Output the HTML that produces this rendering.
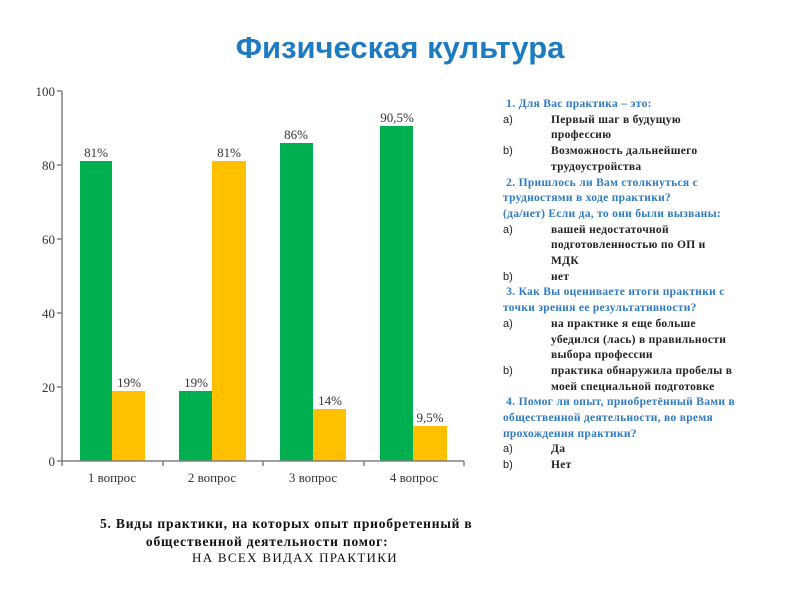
<!DOCTYPE html>
<html><head><meta charset="utf-8"><style>
body{margin:0;width:800px;height:600px;background:#fff;position:relative;overflow:hidden;font-family:"Liberation Serif","Noto Serif CJK SC",serif}
.t{position:absolute;left:0;width:800px;top:30px;text-align:center;font:bold 31px "Liberation Sans","Noto Sans CJK SC",sans-serif;color:#1F7BC1}
.r{position:absolute;left:503px;top:97px;width:280px;font-size:11.5px;font-weight:bold;line-height:15.7px;color:#222;letter-spacing:0.3px;white-space:nowrap}
.b{color:#2E7BC4}
.i{position:relative;padding-left:48px;width:220px}
.i span{position:absolute;left:0;font-family:"Liberation Sans",sans-serif;font-weight:normal;letter-spacing:0;font-size:11px}
.q{position:absolute;left:100px;top:515px;font-size:13.5px;font-weight:bold;line-height:18px;color:#111;letter-spacing:0.8px;white-space:nowrap}
.n{position:absolute;left:192px;top:550px;font-size:13px;color:#111;letter-spacing:1.3px}
</style></head><body>
<div class="t">Физическая культура</div>
<svg width="800" height="600" style="position:absolute;left:0;top:0" font-family="Liberation Serif,serif">
<g fill="#00B050"><rect x="80" y="161" width="32" height="300"/><rect x="179" y="391" width="33" height="70"/><rect x="280" y="143" width="33" height="318"/><rect x="380" y="126" width="33" height="335"/></g>
<g fill="#FFC000"><rect x="112" y="391" width="33" height="70"/><rect x="212" y="161" width="34" height="300"/><rect x="313" y="409" width="33" height="52"/><rect x="413" y="426" width="34" height="35"/></g>
<g stroke="#808080" stroke-width="1.5" fill="none"><path d="M62 91V461H464"/><path d="M57 91H62M57 165H62M57 239H62M57 313H62M57 387H62M57 461H62M163 461V466M263 461V466M364 461V466M464 461V466M62 461V466"/></g>
<g font-size="13" fill="#333" text-anchor="end"><text x="55" y="96">100</text><text x="55" y="170">80</text><text x="55" y="244">60</text><text x="55" y="318">40</text><text x="55" y="392">20</text><text x="55" y="466">0</text></g>
<g font-size="13" fill="#333" text-anchor="middle"><text x="112" y="482">1 вопрос</text><text x="212" y="482">2 вопрос</text><text x="313" y="482">3 вопрос</text><text x="414" y="482">4 вопрос</text>
<text x="96" y="157">81%</text><text x="129" y="387">19%</text><text x="196" y="387">19%</text><text x="229" y="157">81%</text><text x="296" y="139">86%</text><text x="330" y="405">14%</text><text x="397" y="122">90,5%</text><text x="430" y="422">9,5%</text></g>
</svg>
<div class="r">
<div class="b">&nbsp;1. Для Вас практика – это:</div>
<div class="i"><span>a)</span>Первый шаг в будущую<br>профессию</div>
<div class="i"><span>b)</span>Возможность дальнейшего<br>трудоустройства</div>
<div class="b">&nbsp;2. Пришлось ли Вам столкнуться с<br>трудностями в ходе практики?<br>(да/нет) Если да, то они были вызваны:</div>
<div class="i"><span>a)</span>вашей недостаточной<br>подготовленностью по ОП и<br>МДК</div>
<div class="i"><span>b)</span>нет</div>
<div class="b">&nbsp;3. Как Вы оцениваете итоги практики с<br>точки зрения ее результативности?</div>
<div class="i"><span>a)</span>на практике я еще больше<br>убедился (лась) в правильности<br>выбора профессии</div>
<div class="i"><span>b)</span>практика обнаружила пробелы в<br>моей специальной подготовке</div>
<div class="b">&nbsp;4. Помог ли опыт, приобретённый Вами в<br>общественной деятельности, во время<br>прохождения практики?</div>
<div class="i"><span>a)</span>Да</div>
<div class="i"><span>b)</span>Нет</div>
</div>
<div class="q">5. Виды практики, на которых опыт приобретенный в<br>&nbsp;&nbsp;&nbsp;&nbsp;&nbsp;&nbsp;&nbsp;&nbsp;&nbsp;&nbsp;&nbsp;общественной деятельности помог:</div>
<div class="n">НА ВСЕХ ВИДАХ ПРАКТИКИ</div>
</body></html>
